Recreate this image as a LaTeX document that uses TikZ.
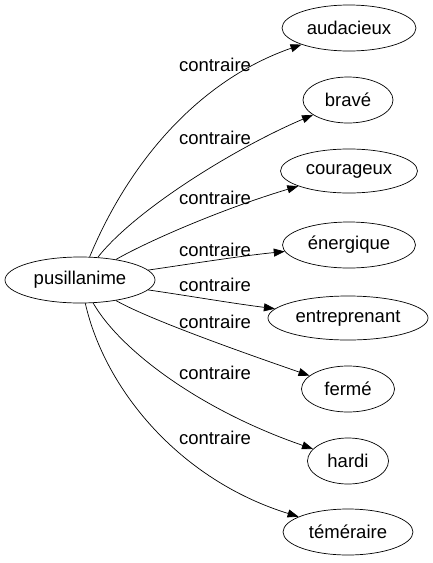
\documentclass[tikz,border=0pt]{standalone}
\usepackage{fontspec}
\setmainfont{Liberation Sans}
\usetikzlibrary{shapes.geometric,arrows.meta}
\begin{document}
\begin{tikzpicture}[x=1pt,y=-1pt,
  word/.style={draw,ellipse,inner sep=0pt,line width=0.7pt,font=\fontsize{18.5}{20}\selectfont},
  rel/.style={font=\fontsize{18.5}{20}\selectfont,inner sep=0pt},
  edge/.style={line width=0.7pt,-{Triangle[length=11pt,width=8pt]}}]
\useasboundingbox (0,0) rectangle (433,563);
\node[word,minimum width=150pt,minimum height=46pt] (p) at (80,280) {pusillanime};
\node[word,minimum width=134pt,minimum height=46pt] (a) at (349,28) {audacieux};
\node[word,minimum width=90pt,minimum height=46pt] (b) at (348,100) {bravé};
\node[word,minimum width=137pt,minimum height=44pt] (c) at (349,171) {courageux};
\node[word,minimum width=133pt,minimum height=46pt] (e) at (349,245) {énergique};
\node[word,minimum width=160pt,minimum height=44pt] (n) at (348,318) {entreprenant};
\node[word,minimum width=93pt,minimum height=46pt] (f) at (348,389) {fermé};
\node[word,minimum width=81pt,minimum height=46pt] (h) at (348,461) {hardi};
\node[word,minimum width=130pt,minimum height=46pt] (t) at (348,532) {téméraire};
\draw[edge] (p) .. controls (130,160) and (200,80) .. (a);
\draw[edge] (p) .. controls (135,210) and (235,148) .. (b);
\draw[edge] (p) .. controls (150,240) and (225,208) .. (c);
\draw[edge] (p) .. controls (190,264) and (240,256) .. (e);
\draw[edge] (p) .. controls (190,296) and (230,303) .. (n);
\draw[edge] (p) .. controls (150,320) and (250,355) .. (f);
\draw[edge] (p) .. controls (120,350) and (200,410) .. (h);
\draw[edge] (p) .. controls (105,390) and (180,480) .. (t);
\node[rel] (l1) at (215,65) {contraire};
\node[rel] (l2) at (215,138) {contraire};
\node[rel] (l3) at (215,198) {contraire};
\node[rel] (l4) at (215,250) {contraire};
\node[rel] (l5) at (215,285) {contraire};
\node[rel] (l6) at (215,322) {contraire};
\node[rel] (l7) at (215,373) {contraire};
\node[rel] (l8) at (215,438) {contraire};
\end{tikzpicture}
\end{document}
